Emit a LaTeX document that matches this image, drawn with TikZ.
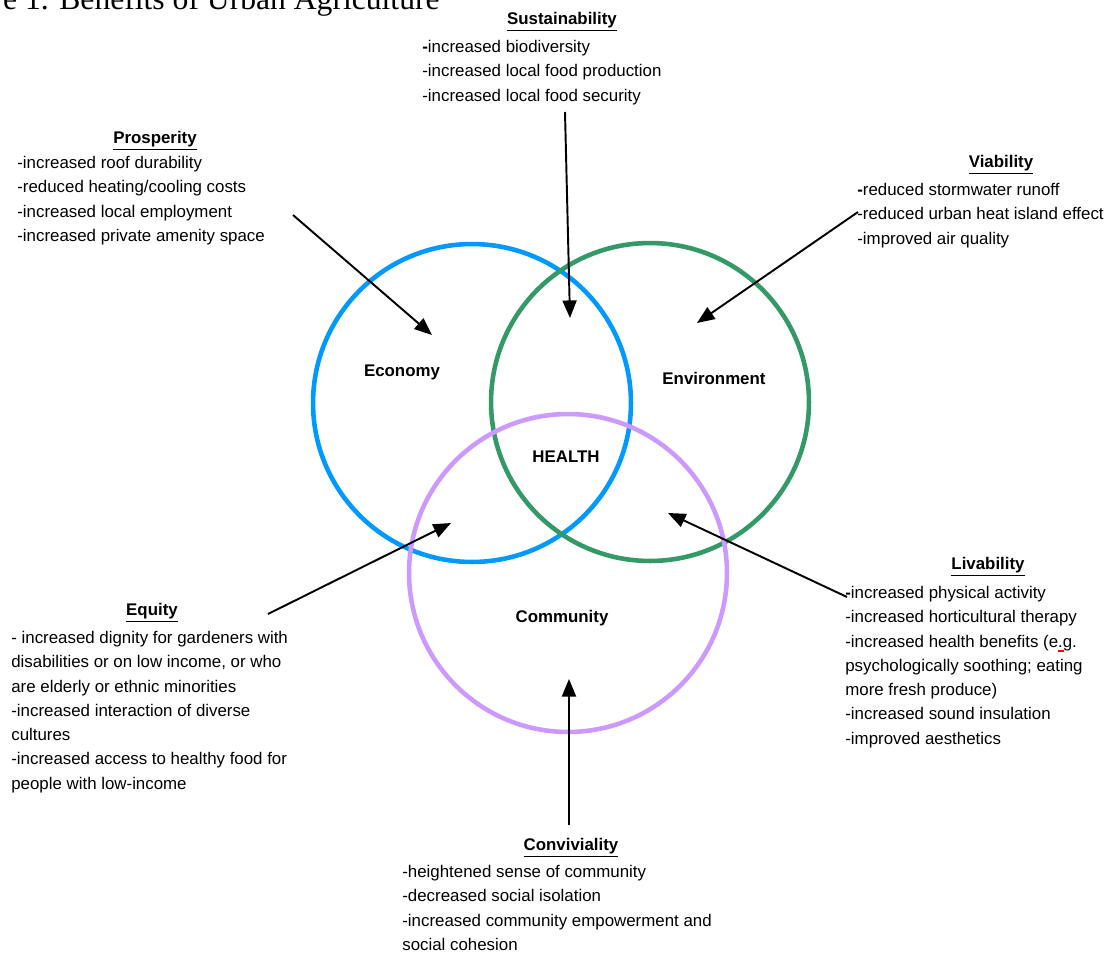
\documentclass[tikz,border=0pt]{standalone}
\usepackage{fontspec}
\setmainfont{Liberation Sans}
\newfontfamily\titlefont{Liberation Serif}
\usetikzlibrary{arrows.meta}
\definecolor{econblue}{HTML}{0099FF}
\definecolor{envgreen}{HTML}{339966}
\definecolor{commpurple}{HTML}{CC99FF}
\tikzset{every node/.style={inner sep=0pt,font=\fontsize{9.6}{13.8}\selectfont}}

\begin{document}
\begin{tikzpicture}[x=0.02cm,y=-0.02cm]
\useasboundingbox (0,0) rectangle (1117,954);
\clip (0,0) rectangle (1117,954);

\tikzstyle{ring}=[shape=circle,minimum size=6.36cm,line width=2.6pt]
\tikzstyle{hd}=[font=\fontsize{9.6}{13.8}\selectfont\bfseries]
\tikzstyle{txt}=[anchor=north west,align=left]
\tikzstyle{a}=[line width=1.1pt,-{Triangle[length=10pt,width=8pt]}]

% caption, cut off by the page top
\node[anchor=base east,font=\titlefont\fontsize{18}{20}\selectfont] (title) at (440,9.5) {Figure 1. Benefits of Urban Agriculture};

\node[ring,draw=econblue] (econ) at (472,403) {};
\node[ring,draw=envgreen] (env) at (650,402) {};
\node[ring,draw=commpurple] (comm) at (568,573) {};

\node[hd] (econlbl) at (402,372) {Economy};
\node[hd] (envlbl) at (714,378) {Environment};
\node[hd] (health) at (566,457) {HEALTH};
\node[hd] (commlbl) at (562,618) {Community};

% headings
\node[hd] (sus) at (562,22) {\underline{Sustainability}};
\node[hd] (pros) at (155,141) {\underline{Prosperity}};
\node[hd] (via) at (1001,165) {\underline{Viability}};
\node[hd] (eq) at (152,613) {\underline{Equity}};
\node[hd] (liv) at (988,567) {\underline{Livability}};
\node[hd] (conv) at (571,848) {\underline{Conviviality}};

% lists
\node[txt] (sustxt) at (422,40) {\textbf{-}increased biodiversity\\-increased local food production\\-increased local food security};
\node[txt] (prostxt) at (17,156) {-increased roof durability\\-reduced heating/cooling costs\\-increased local employment\\-increased private amenity space};
\node[txt] (viatxt) at (857,183) {\textbf{-}reduced stormwater runoff\\-reduced urban heat island effect\\-improved air quality};
\node[txt] (eqtxt) at (11,631) {- increased dignity for gardeners with\\disabilities or on low income, or who\\are elderly or ethnic minorities\\-increased interaction of diverse\\cultures\\-increased access to healthy food for\\people with low-income};
\node[txt] (livtxt) at (845,586) {\textbf{-}increased physical activity\\-increased horticultural therapy\\-increased health benefits (e.g.\\psychologically soothing; eating\\more fresh produce)\\-increased sound insulation\\-improved aesthetics};
\node[txt] (convtxt) at (402,865) {-heightened sense of community\\-decreased social isolation\\-increased community empowerment and\\social cohesion};

% spell mark
\draw[red,line width=0.9pt] (1058,651) -- (1064,651);

\coordinate (sus0) at (565,112);  \coordinate (sus1) at (570,318);
\coordinate (pros0) at (293,215); \coordinate (pros1) at (432,335);
\coordinate (via0) at (858,212);  \coordinate (via1) at (697,323);
\coordinate (eq0) at (268,614);   \coordinate (eq1) at (451,523);
\coordinate (liv0) at (847,597);  \coordinate (liv1) at (668,513);
\coordinate (conv0) at (569,825); \coordinate (conv1) at (569,679);

\foreach \x in {sus,pros,via,eq,liv,conv}
  \draw[a] (\x0) -- (\x1);

\end{tikzpicture}
\end{document}
